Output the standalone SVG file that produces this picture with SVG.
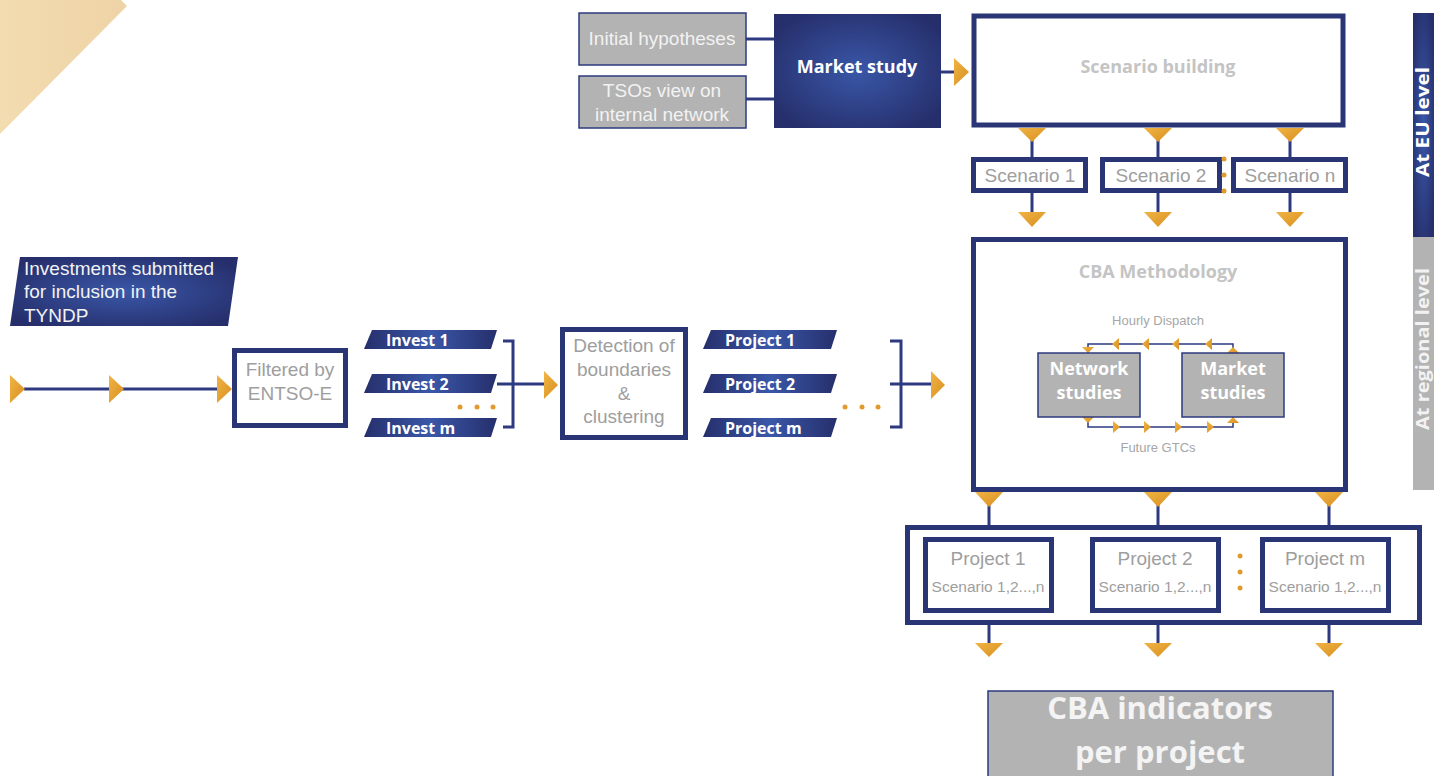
<svg xmlns="http://www.w3.org/2000/svg" width="1444" height="776" viewBox="0 0 1444 776">
<defs>
<radialGradient id="navyG" cx="0.5" cy="0.5" r="0.6">
<stop offset="0" stop-color="#3a57a8"/>
<stop offset="1" stop-color="#262f6c"/>
</radialGradient>
<linearGradient id="navyH" x1="0" y1="0" x2="1" y2="0">
<stop offset="0" stop-color="#262f6c"/>
<stop offset="0.5" stop-color="#3a57a8"/>
<stop offset="1" stop-color="#262f6c"/>
</linearGradient>
<linearGradient id="orG" x1="0" y1="0" x2="1" y2="1">
<stop offset="0" stop-color="#f0b443"/>
<stop offset="1" stop-color="#d88f22"/>
</linearGradient>
<linearGradient id="beige" x1="0" y1="0" x2="1" y2="0">
<stop offset="0" stop-color="#f3dcb0"/>
<stop offset="1" stop-color="#eed3a6"/>
</linearGradient>
</defs>
<style>
.box{fill:#fff;stroke:#2a3575;stroke-width:5}
.gbox{fill:#b3b3b3;stroke:#2d3a7c;stroke-width:1.5}
.ln{stroke:#2d3a80;stroke-width:3;fill:none}
.thin{stroke:#2d3a80;stroke-width:1.5;fill:none}
.tri{fill:url(#orG)}
.dot{fill:#e19a2e}
.lt{font-family:"Liberation Sans",Arial,sans-serif;font-size:19px;fill:#9e9e9e;text-anchor:middle}
.wt{font-family:"Liberation Sans",Arial,sans-serif;font-size:19px;fill:#f2f2f2;text-anchor:middle}
.wl{font-family:"Liberation Sans",Arial,sans-serif;font-size:19px;fill:#f2f2f2}
.bw{font-family:"Open Sans","DejaVu Sans",sans-serif;font-weight:bold;fill:#fff}
.bc{font-family:"Open Sans","DejaVu Sans",sans-serif;font-weight:bold;fill:#fff;text-anchor:middle}
.bg{font-family:"Open Sans","DejaVu Sans",sans-serif;font-weight:bold;fill:#c4c4c4;text-anchor:middle}
.sm{font-family:"Liberation Sans",Arial,sans-serif;font-size:13px;fill:#a6a6a6;text-anchor:middle}
.sc{font-family:"Liberation Sans",Arial,sans-serif;font-size:15.5px;fill:#9e9e9e;text-anchor:middle}
</style>
<polygon points="0,0 121,0 127,6 0,134" fill="url(#beige)"/>
<g id="side-eu"><rect x="1413" y="13" width="21" height="224" fill="url(#navyG)"/><text class="bc" font-size="17" textLength="110" lengthAdjust="spacingAndGlyphs" transform="translate(1429,122) rotate(-90)">At EU level</text></g>
<g id="side-regional"><rect x="1413" y="237" width="21" height="253" fill="#b3b3b3"/><text class="bc" font-size="17" textLength="162" lengthAdjust="spacingAndGlyphs" style="fill:#f2f2f2" transform="translate(1429,349) rotate(-90)">At regional level</text></g>
<g id="connectors">
<line class="ln" x1="746" y1="39" x2="774" y2="39"/>
<line class="ln" x1="746" y1="99" x2="774" y2="99"/>
<line class="ln" x1="941" y1="72" x2="955" y2="72"/>
<polygon class="tri" points="954,58 969,72 954,86"/>
<line class="ln" x1="1032" y1="140" x2="1032" y2="157"/>
<line class="ln" x1="1158" y1="140" x2="1158" y2="157"/>
<line class="ln" x1="1290" y1="140" x2="1290" y2="157"/>
<polygon class="tri" points="1018,128 1046,128 1032,142"/>
<polygon class="tri" points="1144,128 1172,128 1158,142"/>
<polygon class="tri" points="1276,128 1304,128 1290,142"/>
<line class="ln" x1="1032" y1="193" x2="1032" y2="213"/>
<line class="ln" x1="1158" y1="193" x2="1158" y2="213"/>
<line class="ln" x1="1290" y1="193" x2="1290" y2="213"/>
<polygon class="tri" points="1018,212 1046,212 1032,227"/>
<polygon class="tri" points="1144,212 1172,212 1158,227"/>
<polygon class="tri" points="1276,212 1304,212 1290,227"/>
<line class="ln" x1="24" y1="389" x2="218" y2="389"/>
<polygon class="tri" points="10,375 25,389 10,403"/>
<polygon class="tri" points="109,375 124,389 109,403"/>
<polygon class="tri" points="217,375 232,389 217,403"/>
<polyline class="ln" points="503,341 513,341 513,427 503,427"/>
<line class="ln" x1="497" y1="384" x2="546" y2="384"/>
<polygon class="tri" points="544,371 558,385 544,399"/>
<polyline class="ln" points="890,341 901,341 901,427 890,427"/>
<line class="ln" x1="890" y1="384" x2="933" y2="384"/>
<polygon class="tri" points="931,371 945,385 931,399"/>
<line class="ln" x1="989" y1="505" x2="989" y2="525"/>
<line class="ln" x1="1158" y1="505" x2="1158" y2="525"/>
<line class="ln" x1="1329" y1="505" x2="1329" y2="525"/>
<polygon class="tri" points="975,492 1003,492 989,507"/>
<polygon class="tri" points="1144,492 1172,492 1158,507"/>
<polygon class="tri" points="1315,492 1343,492 1329,507"/>
<line class="ln" x1="989" y1="625" x2="989" y2="644"/>
<line class="ln" x1="1158" y1="625" x2="1158" y2="644"/>
<line class="ln" x1="1329" y1="625" x2="1329" y2="644"/>
<polygon class="tri" points="975,643 1003,643 989,657"/>
<polygon class="tri" points="1144,643 1172,643 1158,657"/>
<polygon class="tri" points="1315,643 1343,643 1329,657"/>
</g>
<g id="initial-hypotheses"><rect class="gbox" x="579" y="13" width="167" height="52"/><text class="wt" x="662" y="45">Initial hypotheses</text></g>
<g id="tsos-view"><rect class="gbox" x="579" y="76" width="167" height="52"/><text class="wt" x="662" y="97">TSOs view on</text><text class="wt" x="662" y="121">internal network</text></g>
<g id="market-study"><rect x="774" y="14" width="167" height="114" fill="url(#navyG)"/><text class="bc" font-size="18" x="857" y="73">Market study</text></g>
<g id="scenario-building"><rect class="box" x="974" y="16" width="369" height="109"/><text class="bg" font-size="18" x="1158" y="73">Scenario building</text></g>
<g id="scenario-1"><rect class="box" x="973.5" y="159.5" width="112" height="31"/><text class="lt" x="1030" y="182">Scenario 1</text></g>
<g id="scenario-2"><rect class="box" x="1102.5" y="159.5" width="117" height="31"/><text class="lt" x="1161" y="182">Scenario 2</text></g>
<g id="scenario-n"><rect class="box" x="1233.5" y="159.5" width="112" height="31"/><text class="lt" x="1290" y="182">Scenario n</text></g>
<g id="scenario-dots"><circle class="dot" cx="1224" cy="159" r="2.5"/><circle class="dot" cx="1224" cy="175" r="2.5"/><circle class="dot" cx="1224" cy="191" r="2.5"/></g>
<g id="investments-submitted"><polygon points="20,257 238,257 228,326 10,326" fill="url(#navyG)"/><text class="wl" x="24" y="275">Investments submitted</text><text class="wl" x="24" y="298">for inclusion in the</text><text class="wl" x="24" y="322">TYNDP</text></g>
<g id="filtered"><rect class="box" x="234.5" y="350.5" width="111" height="75"/><text class="lt" x="290" y="376">Filtered by</text><text class="lt" x="290" y="400">ENTSO-E</text></g>
<g id="invest-1"><polygon points="372,330 497,330 491,349 364,349" fill="url(#navyH)"/><text class="bw" font-size="16" x="386" y="346">Invest 1</text></g>
<g id="invest-2"><polygon points="372,374 497,374 491,393 364,393" fill="url(#navyH)"/><text class="bw" font-size="16" x="386" y="390">Invest 2</text></g>
<g id="invest-m"><polygon points="372,418 497,418 491,437 364,437" fill="url(#navyH)"/><text class="bw" font-size="16" x="386" y="434">Invest m</text></g>
<g id="invest-dots"><circle class="dot" cx="460" cy="407" r="2.5"/><circle class="dot" cx="477" cy="407" r="2.5"/><circle class="dot" cx="493" cy="407" r="2.5"/></g>
<g id="detection"><rect class="box" x="562.5" y="329.5" width="123" height="108"/><text class="lt" x="624" y="352">Detection of</text><text class="lt" x="624" y="376">boundaries</text><text class="lt" x="624" y="400">&amp;</text><text class="lt" x="624" y="423">clustering</text></g>
<g id="project-label-1"><polygon points="711,330 837,330 831,349 703,349" fill="url(#navyH)"/><text class="bw" font-size="16" x="725" y="346">Project 1</text></g>
<g id="project-label-2"><polygon points="711,374 837,374 831,393 703,393" fill="url(#navyH)"/><text class="bw" font-size="16" x="725" y="390">Project 2</text></g>
<g id="project-label-m"><polygon points="711,418 837,418 831,437 703,437" fill="url(#navyH)"/><text class="bw" font-size="16" x="725" y="434">Project m</text></g>
<g id="project-dots"><circle class="dot" cx="845" cy="407" r="2.5"/><circle class="dot" cx="862" cy="407" r="2.5"/><circle class="dot" cx="878" cy="407" r="2.5"/></g>
<g id="cba-methodology"><rect class="box" x="973.5" y="239.5" width="372" height="250"/><text class="bg" font-size="18" x="1158" y="278">CBA Methodology</text>
<text class="sm" x="1158" y="325">Hourly Dispatch</text><text class="sm" x="1158" y="452">Future GTCs</text>
<polyline class="thin" points="1088,353 1088,344 1233,344 1233,353"/>
<polyline class="thin" points="1088,417 1088,427 1233,427 1233,417"/>
<g class="tri"><polygon points="1119,338 1112,344 1119,350"/><polygon points="1149,338 1142,344 1149,350"/><polygon points="1179,338 1172,344 1179,350"/><polygon points="1212,338 1205,344 1212,350"/>
<polygon points="1113,421 1120,427 1113,433"/><polygon points="1144,421 1151,427 1144,433"/><polygon points="1175,421 1182,427 1175,433"/><polygon points="1207,421 1214,427 1207,433"/>
<polygon points="1082,347 1094,347 1088,353"/><polygon points="1227,353 1239,353 1233,347"/><polygon points="1082,417 1094,417 1088,423"/><polygon points="1227,423 1239,423 1233,417"/></g>
</g>
<g id="network-studies"><rect class="gbox" x="1038" y="353" width="102" height="64"/><text class="bc" font-size="18" x="1089" y="375">Network</text><text class="bc" font-size="18" x="1089" y="399">studies</text></g>
<g id="market-studies"><rect class="gbox" x="1182" y="353" width="102" height="64"/><text class="bc" font-size="18" x="1233" y="375">Market</text><text class="bc" font-size="18" x="1233" y="399">studies</text></g>
<g id="projects-container"><rect class="box" x="907.5" y="527.5" width="512" height="95"/></g>
<g id="project-1"><rect class="box" x="925.5" y="539.5" width="126" height="71"/><text class="lt" x="988" y="565">Project 1</text><text class="sc" x="988" y="592">Scenario 1,2...,n</text></g>
<g id="project-2"><rect class="box" x="1092.5" y="539.5" width="126" height="71"/><text class="lt" x="1155" y="565">Project 2</text><text class="sc" x="1155" y="592">Scenario 1,2...,n</text></g>
<g id="project-m"><rect class="box" x="1262.5" y="539.5" width="126" height="71"/><text class="lt" x="1325" y="565">Project m</text><text class="sc" x="1325" y="592">Scenario 1,2...,n</text></g>
<g id="projects-dots"><circle class="dot" cx="1240" cy="556" r="2.5"/><circle class="dot" cx="1240" cy="572" r="2.5"/><circle class="dot" cx="1240" cy="588" r="2.5"/></g>
<g id="cba-indicators"><rect class="gbox" x="988" y="691" width="345" height="90"/><text class="bc" font-size="31" x="1160" y="719" style="fill:#f4f4f4">CBA indicators</text><text class="bc" font-size="31" x="1160" y="763" style="fill:#f4f4f4">per project</text></g>
</svg>
